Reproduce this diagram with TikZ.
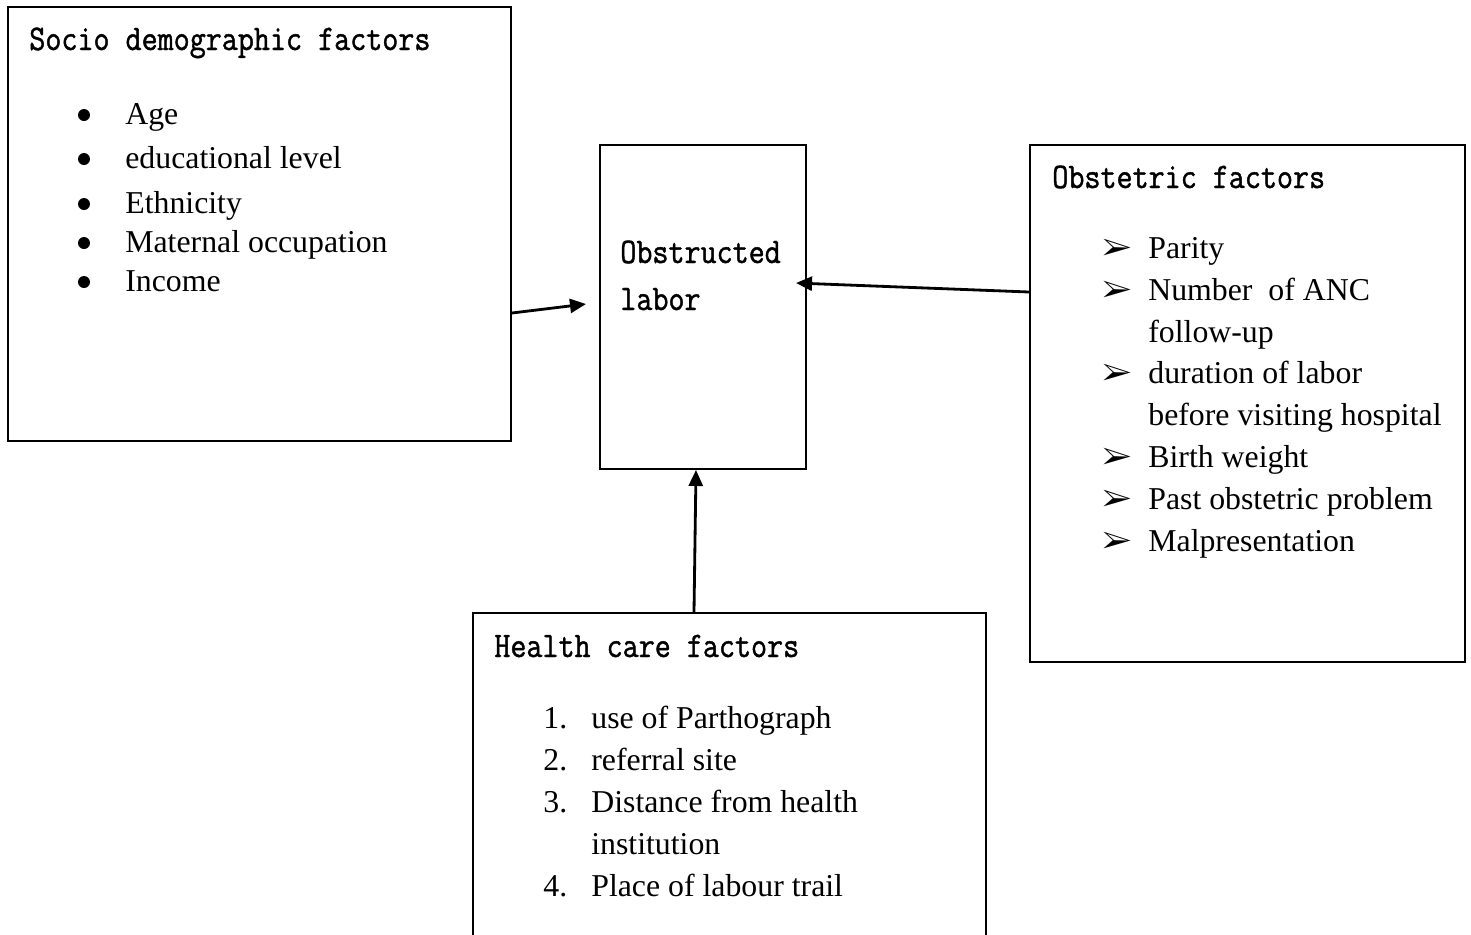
\documentclass[tikz,border=0pt]{standalone}
\usepackage{fontspec}
\setmainfont{Liberation Serif}
\newfontfamily\headfont[FakeStretch=0.865,FakeBold=1.2]{Latin Modern Mono}
\usepackage{pifont}
\usetikzlibrary{arrows.meta,fit}

\tikzset{
  factorbox/.style={draw, line width=1.1pt, inner sep=0pt},
  heading/.style={anchor=base west, inner sep=0pt, font=\headfont\fontsize{20.5}{24}\selectfont},
  item/.style={anchor=base west, inner sep=0pt, font=\fontsize{18.1}{22}\selectfont},
  dot/.style={circle, fill, inner sep=0pt, minimum size=0.24cm},
  link/.style={line width=1.6pt, -{Triangle[length=0.32cm,width=0.28cm]}}
}

\begin{document}
\begin{tikzpicture}[x=0.02cm, y=-0.02cm]
\clip (0,0) rectangle (1471,934);
% boxes
\node[factorbox, fit={(8,7) (511,441)}] (socio) {};
\node[factorbox, fit={(600,145) (806,469)}] (obstr) {};
\node[factorbox, fit={(1030,145) (1465,662)}] (obstet) {};
\node[factorbox, fit={(473,613) (986,970)}] (health) {};

% headings
\node[heading] (socioT) at (29,50) {Socio demographic factors};
\node[heading] (obstrA) at (620,263) {Obstructed};
\node[heading] (obstrB) at (620,310) {labor};
\node[heading] (obstetT) at (1052,188) {Obstetric factors};
\node[heading] (healthT) at (494,657) {Health care factors};

% socio demographic list
\foreach \y/\txt [count=\i] in {124/Age, 168/educational level, 213/Ethnicity,
    252/Maternal occupation, 291/Income}{
  \node[dot] (sd\i) at (84,\y-9) {};
  \node[item] (st\i) at (125,\y) {\txt};
}

% obstetric list
\foreach \y/\txt [count=\i] in {258/Parity, 300/Number\ \ of ANC, 383/duration of labor,
    467/Birth weight, 509/Past obstetric problem, 551/Malpresentation}{
  \node[item] (oa\i) at (1102,\y) {\ding{226}};
  \node[item] (ot\i) at (1148,\y) {\txt};
}
\node[item] (ot2b) at (1148,342) {follow-up};
\node[item] (ot3b) at (1148,425) {before visiting hospital};

% health care list
\foreach \y/\txt [count=\i] in {728/use of Parthograph, 770/referral site,
    812/Distance from health, 896/Place of labour trail}{
  \node[item] (hn\i) at (543,\y) {\i.};
  \node[item] (ht\i) at (591,\y) {\txt};
}
\node[item] (ht3b) at (591,854) {institution};

% arrows
\coordinate (inS) at (586,304);
\coordinate (inO) at (796,283);
\draw[link] (socio.east |- 0,313) -- (inS);
\draw[link] (obstet.west |- 0,292) -- (inO);
\draw[link] (health.north -| 694,0) -- (obstr.south -| 696,0);
\end{tikzpicture}
\end{document}
